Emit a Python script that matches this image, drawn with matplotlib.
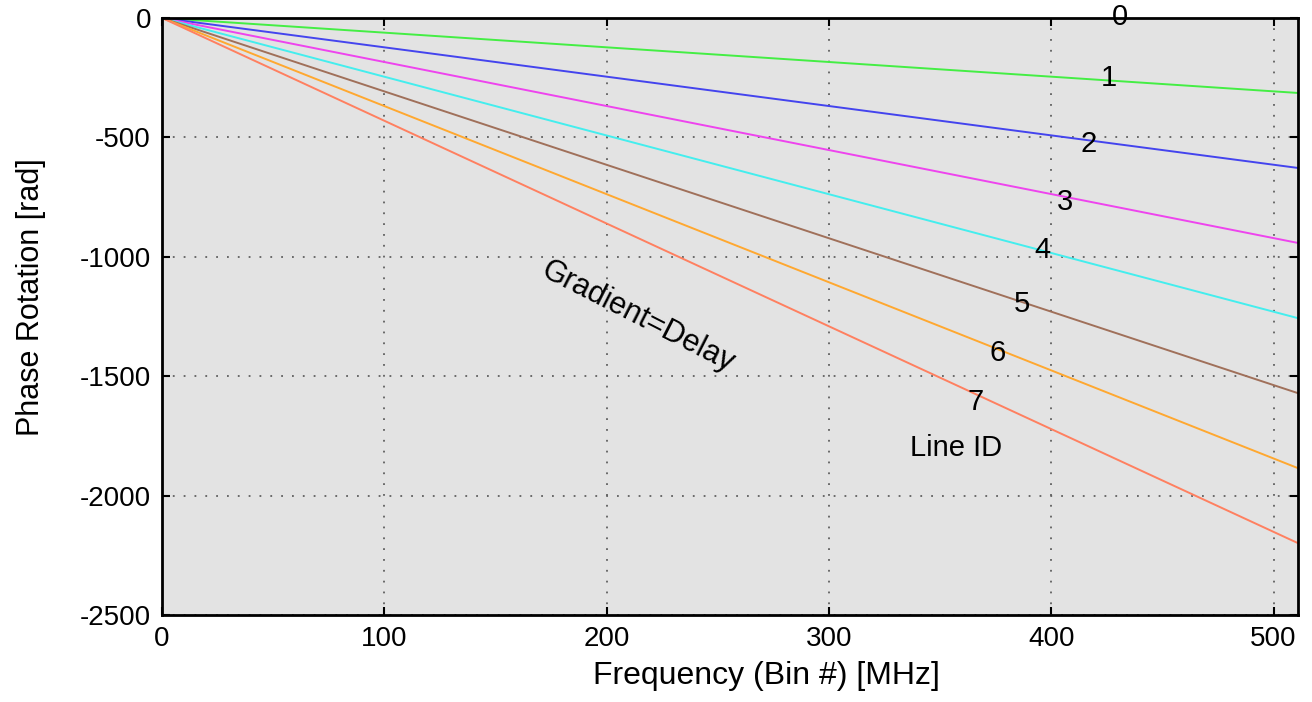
import matplotlib
matplotlib.use("Agg")
import matplotlib.pyplot as plt

plt.rcParams['font.family'] = ['Liberation Sans', 'DejaVu Sans']
plt.rcParams['axes.unicode_minus'] = False

# end points: every line starts at (0, 0)
freq_ends = [0, 511]
line_ids = ["0", "1", "2", "3", "4", "5", "6", "7"]
phase_end = [0, -314, -628, -942, -1257, -1571, -1885, -2199]
line_colors = ['#e04040', '#44ee44', '#4444ee', '#ee44ee', '#44eeee',
               '#a0705a', '#ffa830', '#ff8060']

# label positions (data coords)
label_x = [431, 426, 417, 406, 396, 387, 376, 366]
label_y = [5, -250, -528, -770, -972, -1198, -1403, -1608]

fig = plt.figure(figsize=(13.12, 7.02), dpi=100)
ax = fig.add_axes([0.1235, 0.1239, 0.8658, 0.8505])
ax.set_facecolor('#e3e3e3')

for i in range(len(line_ids)):
    ax.plot(freq_ends, [0, phase_end[i]], color=line_colors[i], lw=1.4, zorder=2)
    ax.text(label_x[i], label_y[i], line_ids[i], fontsize=21,
            ha='center', va='center', zorder=4, clip_on=False)

ax.text(357, -1800, "Line ID", fontsize=21, ha='center', va='center')
ax.text(214, -1250, "Gradient=Delay", fontsize=22, ha='center', va='center',
        rotation=-27, rotation_mode='anchor')

ax.set_xlim(0, 511)
ax.set_ylim(-2500, 0)
ax.set_xticks([0, 100, 200, 300, 400, 500])
ax.set_yticks([-2500, -2000, -1500, -1000, -500, 0])
ax.grid(True, color='#606060', linestyle=(0, (1, 5)), lw=1.3)
ax.tick_params(direction='in', length=6, width=1.5, labelsize=20,
               top=True, right=True, pad=8)
for sp in ax.spines.values():
    sp.set_linewidth(2)
    sp.set_zorder(3)

ax.set_xlabel("Frequency (Bin #) [MHz]", fontsize=23)
ax.set_ylabel("Phase Rotation [rad]", fontsize=22)
ax.xaxis.set_label_coords(0.532, -0.077)
ax.yaxis.set_label_coords(-0.102, 0.533)

fig.savefig("out.png", dpi=100)
